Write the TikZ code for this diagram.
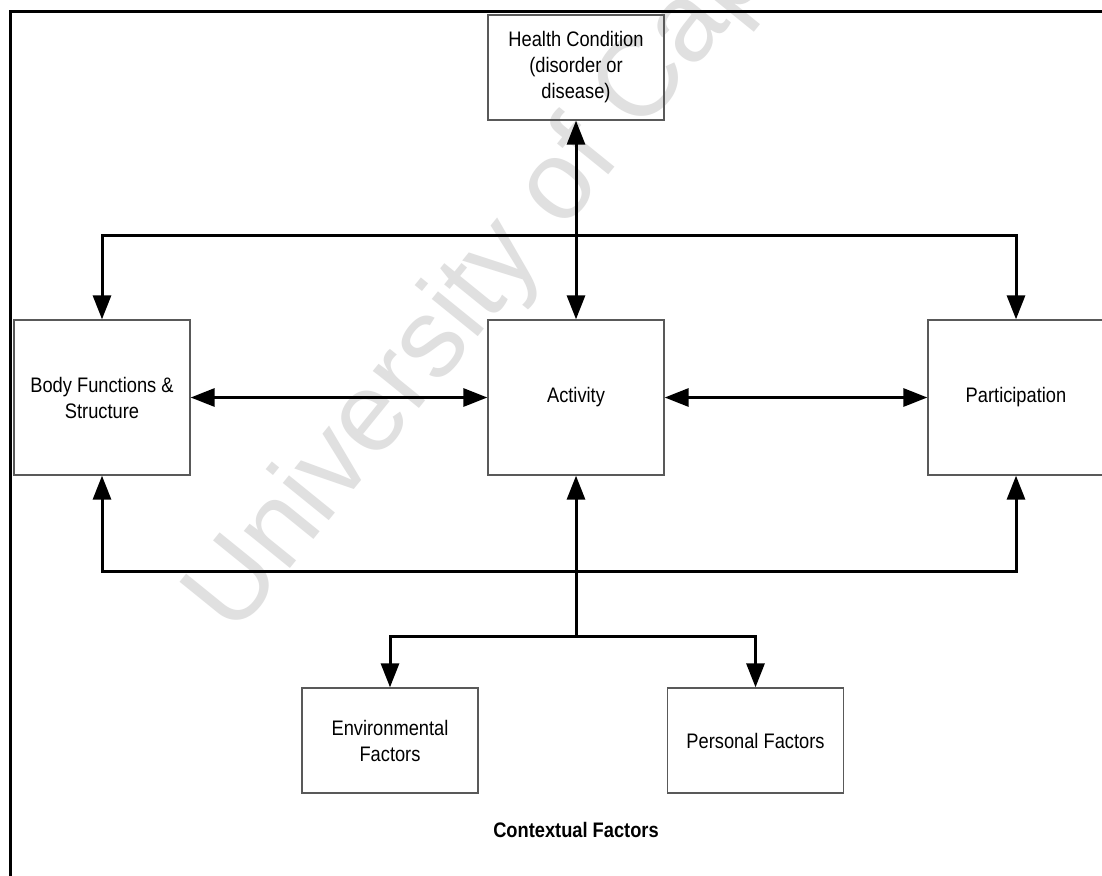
\documentclass[tikz,border=0pt]{standalone}
\usepackage{fontspec}
\setmainfont{Liberation Sans}[FakeStretch=0.87]
\newfontfamily\markfont{Liberation Sans}
\usetikzlibrary{arrows.meta}

\tikzset{
  box/.style={draw=black!65, line width=1.3pt, minimum width=176pt,
    inner sep=0pt, align=center, font=\fontsize{21}{26}\selectfont},
  link/.style={line width=3pt, -{Triangle[length=24pt,width=18pt]}},
  both/.style={line width=3pt, {Triangle[length=24pt,width=18pt]}-{Triangle[length=24pt,width=18pt]}},
  frameline/.style={line width=3pt},
  mark text/.style={text=black!12, font=\markfont\fontsize{112}{112}\selectfont, rotate=51}
}

\begin{document}
\begin{tikzpicture}[x=1pt, y=-1pt]
  \useasboundingbox (0,0) rectangle (1102,875);
  \clip (0,0) rectangle (1102,875);
  \fill[white] (0,0) rectangle (1102,875);

  % background watermark
  \node[mark text] (wm) at (592,150) {University of Cape Town};

  % outer frame (top and left edges)
  \draw[frameline] (10,876) -- (10,12) -- (1103,12);

  % boxes
  \node[box, minimum height=105pt] (hc)   at (576,67.5)  {Health Condition\\(disorder or\\disease)};
  \node[box, minimum height=155pt] (body) at (102,397.5) {Body Functions \&\\Structure};
  \node[box, minimum height=155pt] (act)  at (576,397.5) {Activity};
  \node[box, minimum height=155pt] (part) at (1016,397.5){Participation};
  \node[box, minimum height=105pt] (env)  at (390,740.5) {Environmental\\Factors};
  \node[box, minimum height=105pt] (pers) at (755.5,740.5){Personal Factors};
  \node[font=\bfseries\fontsize{21}{26}\selectfont] (ctx) at (576,830) {Contextual Factors};

  % health condition <-> activity
  \draw[both] (hc.south) -- (act.north);

  % upper distribution bar
  \draw[both] (body.north) -- ++(0,-84) -| (part.north);

  % horizontal links
  \draw[both] (body.east) -- (act.west);
  \draw[both] (act.east) -- (part.west);

  % lower distribution bar
  \draw[both] (body.south) -- ++(0,96) -| (part.south);

  % contextual factors
  \coordinate (j) at (576,636);
  \draw[link] (j) -- (act.south);
  \draw[link] (j) -| (env.north);
  \draw[link] (j) -| (pers.north);
\end{tikzpicture}
\end{document}
